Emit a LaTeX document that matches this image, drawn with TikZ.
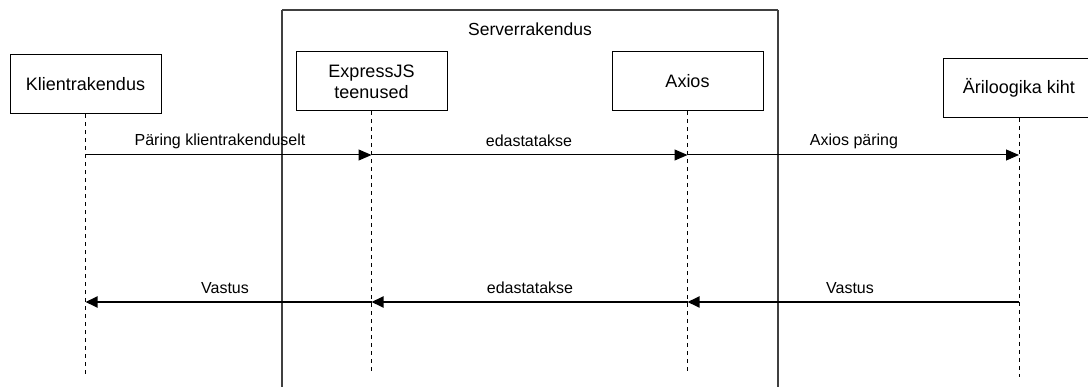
\documentclass[tikz,border=0pt]{standalone}
\usepackage{fontspec}
\setmainfont{Liberation Sans}
\usetikzlibrary{arrows.meta}
\begin{document}
\begin{tikzpicture}[x=1pt,y=-1pt,
  actor/.style={draw=black,line width=1pt,fill=white,minimum width=151pt,minimum height=59pt,inner sep=0pt,align=center,font=\fontsize{18}{21}\selectfont},
  life/.style={draw=black,line width=1pt,dash pattern=on 4pt off 4pt},
  frame/.style={draw=black!75,line width=1.3pt},
  msg/.style={draw=black,line width=1pt,-{Triangle[length=13pt,width=11pt]}},
  ret/.style={draw=black,line width=1.8pt,-{Triangle[length=12pt,width=11pt]}},
  lbl/.style={font=\fontsize{16}{18}\selectfont,inner sep=0pt}]
\useasboundingbox (0,0) rectangle (1088,387);
% frame
\draw[frame] (282,10) -- (778,10) (282,10) -- (282,400) (778,10) -- (778,400);
\node[font=\fontsize{17.5}{21}\selectfont] (srv) at (530,29) {Serverrakendus};
% actors
\node[actor] (k) at (85.5,84.5) {Klientrakendus};
\node[actor] (e) at (371.5,81.5) {ExpressJS\\teenused};
\node[actor] (a) at (687.5,81.5) {Axios};
\node[actor,minimum width=152pt] (b) at (1019,88) {Äriloogika kiht};
% lifeline ends
\coordinate (kend) at (85.5,376);
\coordinate (eend) at (371.5,372);
\coordinate (aend) at (687.5,372);
\coordinate (bend) at (1019,377);
\draw[life] (k.south) -- (kend);
\draw[life] (e.south) -- (eend);
\draw[life] (a.south) -- (aend);
\draw[life] (b.south) -- (bend);
% message points
\coordinate (k1) at (85.5,155); \coordinate (e1) at (371.5,155);
\coordinate (a1) at (687.5,155); \coordinate (b1) at (1019,155);
\coordinate (k2) at (85.5,302); \coordinate (e2) at (371.5,302);
\coordinate (a2) at (687.5,302); \coordinate (b2) at (1019,302);
\draw[msg] (k1) -- (e1);
\draw[msg] (e1) -- (a1);
\draw[msg] (a1) -- (b1);
\draw[ret] (b2) -- (a2);
\draw[ret] (a2) -- (e2);
\draw[ret] (e2) -- (k2);
% labels
\node[lbl] (l1) at (220,141) {Päring klientrakenduselt};
\node[lbl] (l2) at (529,141) {edastatakse};
\node[lbl] (l3) at (854,141) {Axios päring};
\node[lbl] (l4) at (225,288) {Vastus};
\node[lbl] (l5) at (530,288) {edastatakse};
\node[lbl] (l6) at (850,288) {Vastus};
\end{tikzpicture}
\end{document}
